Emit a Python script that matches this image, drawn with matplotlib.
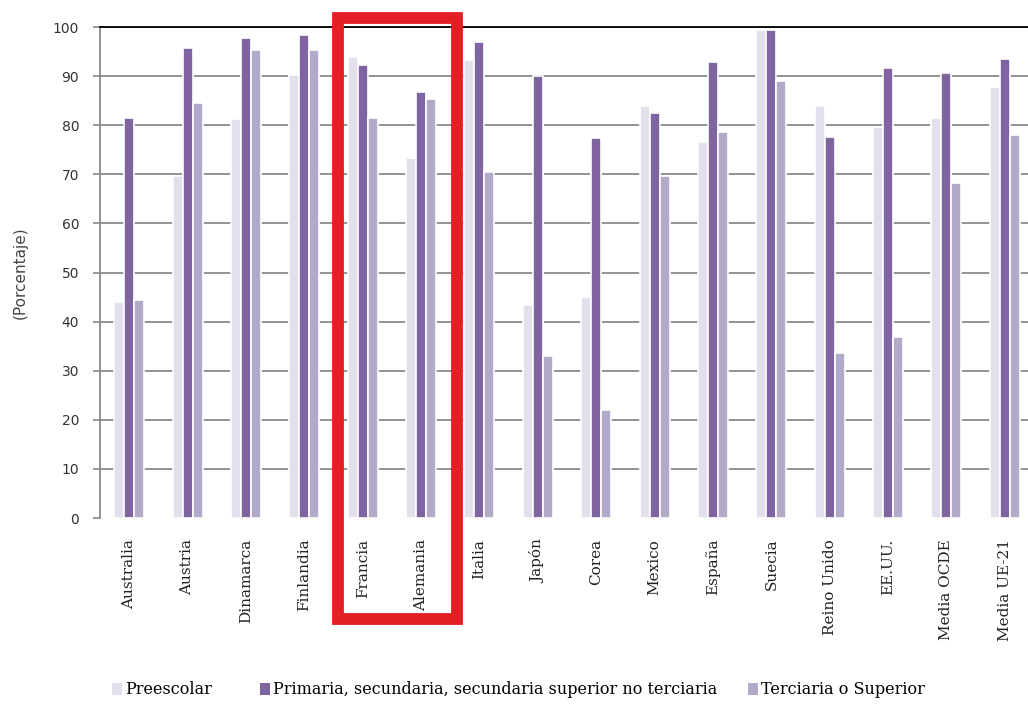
import matplotlib
matplotlib.use("Agg")
import matplotlib.pyplot as plt
from matplotlib.patches import Rectangle
import numpy as np

paises = ["Australia", "Austria", "Dinamarca", "Finlandia", "Francia", "Alemania",
          "Italia", "Japón", "Corea", "Mexico", "España", "Suecia", "Reino Unido",
          "EE.UU.", "Media OCDE", "Media UE-21"]
preescolar = [44.0, 69.7, 81.2, 90.2, 93.8, 73.3, 93.3, 43.4, 45.1, 84.0, 76.6,
              99.4, 84.0, 79.7, 81.4, 87.7]
primaria = [81.4, 95.7, 97.7, 98.4, 92.2, 86.7, 97.0, 90.0, 77.3, 82.4, 92.8,
            99.4, 77.6, 91.7, 90.7, 93.5]
terciaria = [44.5, 84.6, 95.3, 95.3, 81.4, 85.3, 70.4, 33.0, 21.9, 69.7, 78.7,
             89.0, 33.7, 36.8, 68.3, 78.0]
series = ["Preescolar",
          "Primaria, secundaria, secundaria superior no terciaria",
          "Terciaria o Superior"]
colores = ["#e4dfec", "#8064a2", "#b3a9c8"]

W, H = 1028, 704
fig = plt.figure(figsize=(W / 100, H / 100), dpi=100)
# axes run past the right edge of the canvas, so the last group is cut
left, right, top, bottom = 100, 1034, 27, 518
ax = fig.add_axes([left / W, 1 - bottom / H, (right - left) / W, (bottom - top) / H])

x = np.arange(len(paises))
bw = 0.172
bars = []
for k, (vals, col) in enumerate(zip([preescolar, primaria, terciaria], colores)):
    b = ax.bar(x + (k - 1) * bw, vals, width=bw, color=col, edgecolor="white",
               linewidth=1.2, zorder=3, label=series[k])
    bars.append(b)

ax.set_xlim(-0.5, len(paises) - 0.5)
ax.set_ylim(0, 100)
ax.set_yticks(np.arange(0, 101, 10))
ax.yaxis.grid(True, color="#8a8a8a", linewidth=1.3, zorder=0)
ax.get_ygridlines()[0].set_visible(False)
ax.set_axisbelow(True)

for s in ["right", "bottom"]:
    ax.spines[s].set_visible(False)
ax.spines["top"].set_color("black")
ax.spines["top"].set_linewidth(1.3)
ax.spines["left"].set_color("#8a8a8a")
ax.spines["left"].set_linewidth(1.3)

ax.tick_params(axis="y", length=5, width=1.2, color="#8a8a8a", pad=10,
               labelsize=10, labelcolor="#333333")
ax.tick_params(axis="x", length=0, pad=15)
ax.set_xticks(x)
ax.set_xticklabels(paises, rotation=90, fontsize=11, family="DejaVu Serif",
                   color="#222222", va="top")
ax.set_ylabel("(Porcentaje)", fontsize=11, family="DejaVu Sans", color="#444444",
              labelpad=18)

# highlight box around Francia and Alemania
ax.add_patch(Rectangle((3.575, -20.6), 5.613 - 3.575, 101.8 + 20.6, fill=False,
                       edgecolor="#e31e24", linewidth=8.5, clip_on=False, zorder=10))

# one legend entry per series, laid out along the bottom
leg_x = [112, 260, 748]
for px, b, name in zip(leg_x, bars, series):
    h = Rectangle((0, 0), 1, 1, facecolor=b.patches[0].get_facecolor(), edgecolor="none")
    fig.legend([h], [name], loc="center left", bbox_to_anchor=(px / W, 1 - 690 / H),
               frameon=False, handlelength=0.6, handleheight=0.8,
               handletextpad=0.2, borderpad=0, borderaxespad=0,
               prop={"family": "DejaVu Serif", "size": 11.5})

fig.savefig("out.png", dpi=100)
